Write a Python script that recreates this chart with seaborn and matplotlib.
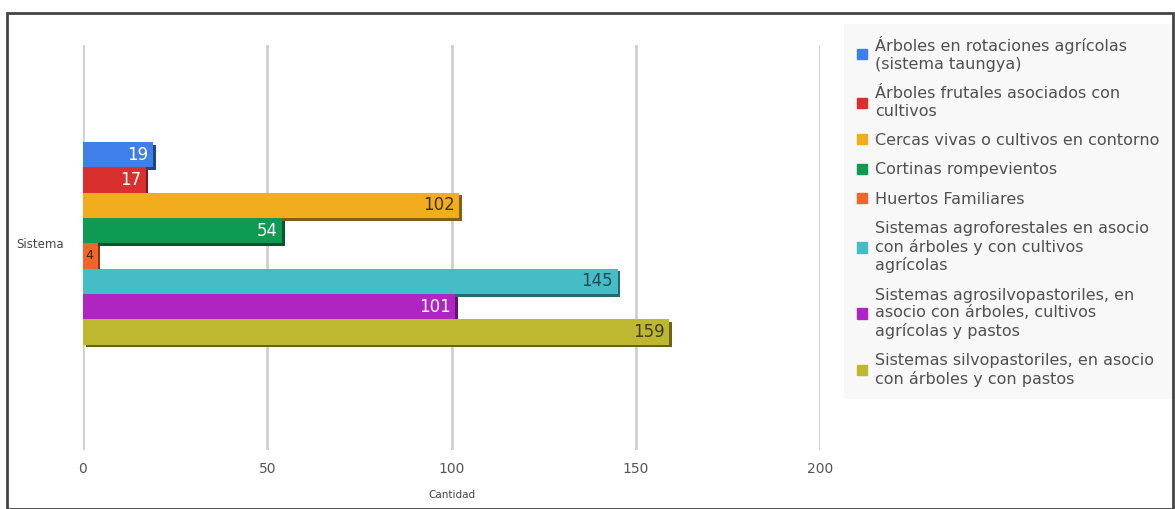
import textwrap
import matplotlib
matplotlib.use("Agg")
import matplotlib.pyplot as plt
import matplotlib.patheffects as pe
from matplotlib.patches import Rectangle
import pandas as pd
import seaborn as sns

category = "Sistema"
series = [
    "Árboles en rotaciones agrícolas (sistema taungya)",
    "Árboles frutales asociados con cultivos",
    "Cercas vivas o cultivos en contorno",
    "Cortinas rompevientos",
    "Huertos Familiares",
    "Sistemas agroforestales en asocio con árboles y con cultivos agrícolas",
    "Sistemas agrosilvopastoriles, en asocio con árboles, cultivos agrícolas y pastos",
    "Sistemas silvopastoriles, en asocio con árboles y con pastos",
]
values = [19, 17, 102, 54, 4, 145, 101, 159]
colors = ["#3f7fea", "#d9302f", "#f2ad1f", "#0f9a52", "#f2642a",
          "#45bdc6", "#b024c2", "#bdb82f"]
label_colors = ["white", "white", "#3a3320", "white", "#3a2a20",
                "#1f4a50", "white", "#3d3c18"]
xticks = [0, 50, 100, 150, 200]
xlabel = "Cantidad"

sns.set_theme(style="white")
plt.rcParams["font.family"] = ["DejaVu Sans"]

df = pd.DataFrame({"cat": [category] * len(series), "serie": series, "valor": values})

fig = plt.figure(figsize=(11.75, 5.09), dpi=100)
ax = fig.add_axes([0.0706, 0.116, 0.6275, 0.796])

sns.barplot(data=df, x="valor", y="cat", hue="serie", hue_order=series,
            palette=colors, orient="h", width=1.0, dodge=True, ax=ax,
            saturation=1, legend=False)

for cont, col, lc in zip(ax.containers, colors, label_colors):
    for p in cont.patches:
        shade = tuple(max(0, c * 0.55) for c in matplotlib.colors.to_rgb(col))
        p.set_path_effects([pe.SimplePatchShadow(offset=(2, -2), shadow_rgbFace=shade, alpha=1),
                            pe.Normal()])
        p.set_edgecolor("none")
        w = p.get_width()
        fs = 9 if w < 10 else 12
        ax.text(w - 1.2, p.get_y() + p.get_height() / 2, f"{int(w)}",
                ha="right", va="center", color=lc, fontsize=fs)

ax.set_xlim(0, 200)
ax.set_ylim(1.02, -0.98)
ax.set_xticks(xticks)
ax.set_xticklabels([str(t) for t in xticks], color="#555555", fontsize=10)
ax.tick_params(axis="x", length=0, pad=9)
ax.tick_params(axis="y", length=0, pad=14, labelsize=8.5, labelcolor="#444444")
ax.grid(axis="x", color="#cfcfcf", linewidth=2)
ax.set_axisbelow(True)
for s in ax.spines.values():
    s.set_visible(False)
ax.set_xlabel(xlabel, fontsize=7.5, color="#444444", labelpad=10)
ax.set_ylabel("")

# legend
handles = [Rectangle((0, 0), 1, 1, color=c) for c in colors]
labels = [textwrap.fill(s, 35) for s in series]
leg = fig.legend(handles, labels, loc="upper left", bbox_to_anchor=(0.716, 0.96),
                 frameon=True, fontsize=11.5, handlelength=0.6, handleheight=0.6,
                 handletextpad=0.5, labelspacing=0.9, borderpad=0.5,
                 labelcolor="#505050")
leg.get_frame().set_facecolor("#f7f7f7")
leg.get_frame().set_edgecolor("none")
leg.get_frame().set_boxstyle("square")

# figure frame
fig.patches.append(Rectangle((0.006, 0.0), 0.992, 0.975, transform=fig.transFigure,
                             fill=False, edgecolor="#444444", linewidth=2))

fig.savefig("out.png", dpi=100)
